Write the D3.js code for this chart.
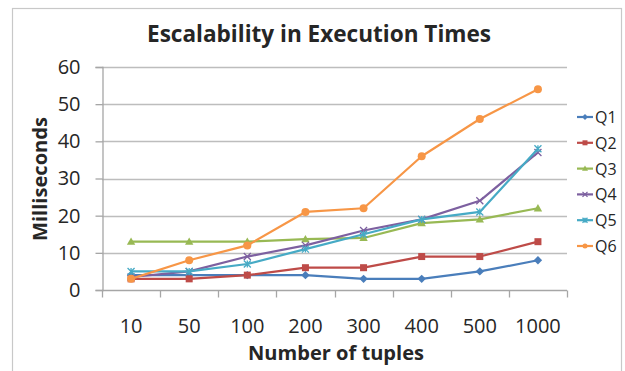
<!DOCTYPE html>
<html>
<head>
<meta charset="utf-8">
<script src="https://cdn.jsdelivr.net/npm/d3@7"></script>
<style>
  html, body { margin: 0; padding: 0; background: #fff; }
  svg { display: block; }
  text { font-family: "Open Sans", "Liberation Sans", sans-serif; fill: #262626; }
</style>
</head>
<body>
<script>
// Execution time (ms) per query as the number of tuples grows
const categories = ["10", "50", "100", "200", "300", "400", "500", "1000"];
const seriesNames = ["Q1", "Q2", "Q3", "Q4", "Q5", "Q6"];
const q1 = [4, 4, 4, 4, 3, 3, 5, 8];
const q2 = [3, 3, 4, 6, 6, 9, 9, 13];
const q3 = [13, 13, 13, 13.7, 14, 18, 19, 22];
const q4 = [3.5, 5, 9, 12, 16, 19, 24, 37];
const q5 = [5, 5, 7, 11, 15, 19, 21, 38];
const q6 = [3, 8, 12, 21, 22, 36, 46, 54];
const yTicks = [0, 10, 20, 30, 40, 50, 60];
const colors = ["#4A7EBB", "#BE4B48", "#98B954", "#7D60A0", "#46AAC5", "#F79646"];
const markers = ["diamond", "square", "triangle", "cross", "asterisk", "circle"];

const series = seriesNames.map((name, i) => ({
  name, values: [q1, q2, q3, q4, q5, q6][i], color: colors[i], marker: markers[i]
}));

const W = 625, H = 371;
const svg = d3.select("body").append("svg").attr("width", W).attr("height", H);

// chart area frame
svg.append("rect").attr("x", 12.5).attr("y", 8.5).attr("width", 609).attr("height", 380)
  .attr("fill", "none").attr("stroke", "#C8C8C8").attr("stroke-width", 1.2);

const plot = { left: 102, right: 567, top: 67, bottom: 290 };

const x = d3.scaleBand().domain(categories).range([plot.left, plot.right]);
const y = d3.scaleLinear().domain([0, 60]).range([plot.bottom, plot.top]);

// horizontal gridlines
svg.append("g").selectAll("line").data(yTicks.filter(d => d > 0)).join("line")
  .attr("x1", plot.left).attr("x2", plot.right)
  .attr("y1", d => Math.round(y(d)) + 0.5).attr("y2", d => Math.round(y(d)) + 0.5)
  .attr("stroke", "#BDBDBD").attr("stroke-width", 1.3);

// y axis
const yAxis = svg.append("g").attr("transform", `translate(${plot.left + 0.5},0)`)
  .call(d3.axisLeft(y).tickValues(yTicks).tickSize(7).tickPadding(15));
yAxis.select(".domain").attr("stroke", "#A6A6A6").attr("stroke-width", 1.3);
yAxis.selectAll(".tick line").attr("stroke", "#A6A6A6").attr("stroke-width", 1.3);
yAxis.selectAll(".tick text").attr("font-size", 20).attr("fill", "#262626")
  .attr("font-family", "'Open Sans', sans-serif");

// x axis with ticks on category boundaries
const xg = svg.append("g").attr("transform", `translate(0,${plot.bottom + 0.5})`);
xg.append("line").attr("x1", plot.left).attr("x2", plot.right)
  .attr("stroke", "#A6A6A6").attr("stroke-width", 1.3);
const boundaries = categories.map(c => x(c)).concat([x(categories[categories.length - 1]) + x.bandwidth()]);
xg.selectAll("line.tk").data(boundaries).join("line").attr("class", "tk")
  .attr("x1", d => Math.round(d) + 0.5).attr("x2", d => Math.round(d) + 0.5)
  .attr("y1", 0).attr("y2", 7).attr("stroke", "#A6A6A6").attr("stroke-width", 1.3);
xg.selectAll("text").data(categories).join("text")
  .attr("x", d => x(d) + x.bandwidth() / 2).attr("y", 42)
  .attr("text-anchor", "middle").attr("font-size", 20).text(d => d);

// axis titles and chart title
svg.append("text").attr("x", 319).attr("y", 42).attr("text-anchor", "middle")
  .attr("font-size", 24).attr("font-weight", "bold")
  .attr("textLength", 344).attr("lengthAdjust", "spacingAndGlyphs")
  .text("Escalability in Execution Times");
svg.append("text").attr("x", 336).attr("y", 360).attr("text-anchor", "middle")
  .attr("font-size", 19).attr("font-weight", "bold")
  .attr("textLength", 176).attr("lengthAdjust", "spacingAndGlyphs")
  .text("Number of tuples");
svg.append("text").attr("transform", "translate(47,179) rotate(-90)")
  .attr("text-anchor", "middle").attr("font-size", 19).attr("font-weight", "bold")
  .attr("textLength", 124).attr("lengthAdjust", "spacingAndGlyphs")
  .text("Milliseconds");

// marker drawing
function drawMarker(g, type, color, size) {
  const s = size;
  switch (type) {
    case "diamond":
      g.append("path").attr("d", `M0,${-s * 0.6}L${s * 0.6},0L0,${s * 0.6}L${-s * 0.6},0Z`).attr("fill", color);
      break;
    case "square":
      g.append("rect").attr("x", -s / 2).attr("y", -s / 2).attr("width", s).attr("height", s).attr("fill", color);
      break;
    case "triangle":
      g.append("path").attr("d", `M0,${-s * 0.6}L${s * 0.6},${s * 0.45}L${-s * 0.6},${s * 0.45}Z`).attr("fill", color);
      break;
    case "cross":
      g.append("path").attr("d", `M${-s / 2},${-s / 2}L${s / 2},${s / 2}M${s / 2},${-s / 2}L${-s / 2},${s / 2}`)
        .attr("stroke", color).attr("stroke-width", 1.3).attr("fill", "none");
      break;
    case "asterisk":
      g.append("path").attr("d", `M${-s / 2},${-s / 2}L${s / 2},${s / 2}M${s / 2},${-s / 2}L${-s / 2},${s / 2}M0,${-s / 2}L0,${s / 2}`)
        .attr("stroke", color).attr("stroke-width", 1.3).attr("fill", "none");
      break;
    case "circle":
      g.append("circle").attr("r", s / 2).attr("fill", color);
      break;
  }
}

const line = d3.line()
  .x((d, i) => x(categories[i]) + x.bandwidth() / 2)
  .y(d => y(d));

series.forEach(s => {
  const g = svg.append("g");
  g.append("path").datum(s.values).attr("d", line)
    .attr("fill", "none").attr("stroke", s.color).attr("stroke-width", 2.2)
    .attr("stroke-linejoin", "round");
  s.values.forEach((v, i) => {
    const mg = g.append("g")
      .attr("transform", `translate(${x(categories[i]) + x.bandwidth() / 2},${y(v)})`);
    drawMarker(mg, s.marker, s.color, s.marker === "circle" ? 8 : 7);
  });
});

// legend
const legend = svg.append("g");
series.forEach((s, i) => {
  const ly = 117 + i * 25.8;
  const lg = legend.append("g");
  lg.append("line").attr("x1", 577).attr("x2", 593).attr("y1", ly).attr("y2", ly)
    .attr("stroke", s.color).attr("stroke-width", 2.2);
  const mg = lg.append("g").attr("transform", `translate(585,${ly})`);
  drawMarker(mg, s.marker, s.color, 5);
  lg.append("text").attr("x", 595).attr("y", ly + 6).attr("font-size", 16).text(s.name);
});
</script>
</body>
</html>
